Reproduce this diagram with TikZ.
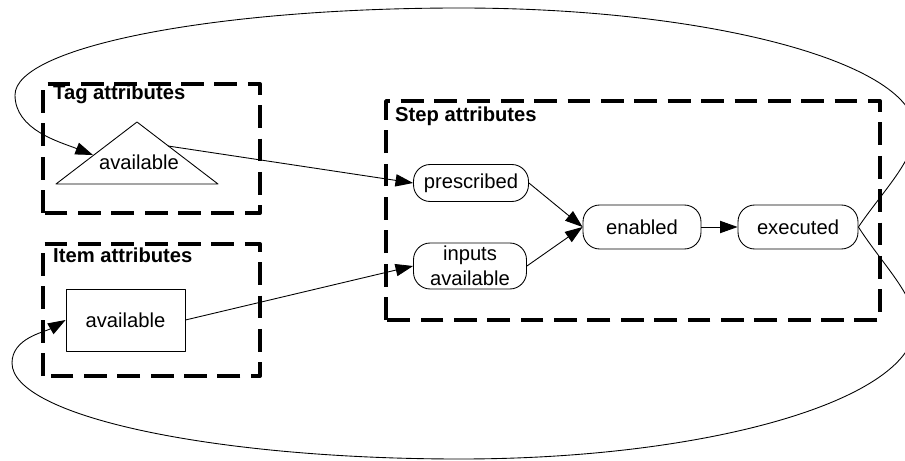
\documentclass[tikz,border=0pt]{standalone}
\usepackage{fontspec}
\setmainfont{Liberation Sans}
\usetikzlibrary{arrows.meta}
\begin{document}
\begin{tikzpicture}[x=0.02cm, y=0.02cm, >={Triangle[length=10pt,width=7pt]}, line width=0.5pt, line join=round,
	font=\fontsize{11.5}{14}\selectfont,
	grp/.style={line width=2.2pt, dash pattern=on 13pt off 6pt},
	title/.style={anchor=base west, inner sep=1pt, font=\fontsize{11.5}{14}\selectfont\bfseries},
	state/.style={draw, rounded corners=9.5pt, align=center, inner sep=0pt}]
	\useasboundingbox (0,0) rectangle (905,460);
	\clip (0,0) rectangle (905,460);
	% attribute groups
	\draw[grp] (43,247) rectangle (260,376);
	\draw[grp] (43,84) rectangle (260,216);
	\draw[grp] (386,140) rectangle (880,359);
	\node[title] (tagt) at (51,360) {Tag attributes};
	\node[title] (itemt) at (51,197) {Item attributes};
	\node[title] (stept) at (393,338) {Step attributes};
	% tag
	\coordinate (tagL) at (56,276);
	\coordinate (tagT) at (137,338);
	\coordinate (tagR) at (218,276);
	\coordinate (tagin) at (93,305);
	\coordinate (tagout) at (168,314);
	\draw (tagL) -- (tagT) -- (tagR) -- cycle;
	\node (tagav) at (139,298) {available};
	% item
	\node[draw, minimum width=2.38cm, minimum height=1.24cm] (itemav) at (125.5,140) {available};
	% step
	\node[state, minimum width=2.3cm, minimum height=0.74cm] (pres) at (471,277) {prescribed};
	\node[state, minimum width=2.26cm, minimum height=0.92cm] (inp) at (470,194) {inputs\\available};
	\node[state, minimum width=2.36cm, minimum height=0.88cm] (en) at (642,233) {enabled};
	\node[state, minimum width=2.4cm, minimum height=0.88cm] (ex) at (798,233) {executed};
	\draw[->] (tagout) -- (pres.west);
	\draw[->] (itemav.east) -- (inp.west);
	\draw[->] (pres.east) -- (en.west);
	\draw[->] (inp.east) -- (en.west);
	\draw[->] (en) -- (ex);
	% loops back
	\draw[->] (ex.east) .. controls (882,268) and (915,300) .. (915,330)
		.. controls (915,397) and (710,452) .. (460,452)
		.. controls (214,452) and (15,413) .. (15,365)
		.. controls (15,330) and (60,318) .. (tagin);
	\draw[->] (ex.east) .. controls (882,196) and (915,165) .. (915,135)
		.. controls (915,61) and (711,1) .. (460,1)
		.. controls (213,1) and (12,44) .. (12,97)
		.. controls (12,122) and (45,128) .. (itemav.west);
\end{tikzpicture}
\end{document}
